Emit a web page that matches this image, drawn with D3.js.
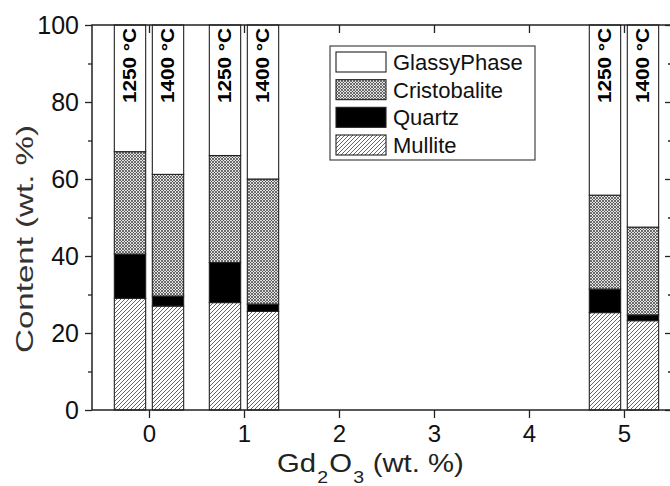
<!DOCTYPE html>
<html>
<head>
<meta charset="utf-8">
<script src="https://cdn.jsdelivr.net/npm/d3@7"></script>
<style>
  body { margin: 0; background: #fff; }
  svg { display: block; font-family: "Liberation Sans", Arial, sans-serif; }
</style>
</head>
<body>
<svg id="chart" width="670" height="486"></svg>
<script>
// Gd2O3 content (wt. %) groups and the two sintering temperatures
const doses = [0, 1, 5];
const temps = ["1250 °C", "1400 °C"];

// phase contents, one value per bar: 0/1250, 0/1400, 1/1250, 1/1400, 5/1250, 5/1400
const mullite      = [29.0, 27.0, 27.9, 25.6, 25.3, 23.2];
const quartz       = [11.5, 2.6, 10.4, 1.9, 6.1, 1.5];
const cristobalite = [26.6, 31.6, 27.8, 32.5, 24.4, 22.8];
const glassy       = [32.9, 38.8, 33.9, 40.0, 44.2, 52.5];

const phases = ["Mullite", "Quartz", "Cristobalite", "GlassyPhase"];
const yTicks = [0, 20, 40, 60, 80, 100];
const xTicks = [0, 1, 2, 3, 4, 5];

const svg = d3.select("#chart");
const pl = 92, pr = 671, pt = 25, pb = 410;
const axisColor = "#222";

const x = d3.scaleLinear().domain([-0.6, 5.495]).range([pl, pr]);
const y = d3.scaleLinear().domain([0, 100]).range([pb, pt]);

// patterns
const defs = svg.append("defs");
const hatch = defs.append("pattern")
  .attr("id", "hatch").attr("patternUnits", "userSpaceOnUse")
  .attr("width", 4).attr("height", 4);
hatch.append("rect").attr("width", 4).attr("height", 4).attr("fill", "#fff");
hatch.append("path").attr("d", "M-1,1 l2,-2 M0,4 l4,-4 M3,5 l2,-2")
  .attr("stroke", "#333").attr("stroke-width", 0.75);

const cross = defs.append("pattern")
  .attr("id", "cross").attr("patternUnits", "userSpaceOnUse")
  .attr("width", 3).attr("height", 3);
cross.append("rect").attr("width", 3).attr("height", 3).attr("fill", "#e4e4e4");
cross.append("path").attr("d", "M0,0 L3,3 M3,0 L0,3")
  .attr("stroke", "#444").attr("stroke-width", 0.75);

const fills = {
  Mullite: "url(#hatch)",
  Quartz: "#000",
  Cristobalite: "url(#cross)",
  GlassyPhase: "#fff"
};

// table for the stack
const rows = [];
doses.forEach((d, i) => {
  temps.forEach((t, j) => {
    const k = i * temps.length + j;
    rows.push({
      dose: d, temp: t, side: j,
      Mullite: mullite[k], Quartz: quartz[k],
      Cristobalite: cristobalite[k], GlassyPhase: glassy[k]
    });
  });
});

const stacked = d3.stack().keys(phases)(rows);
const barW = 0.33, off = 0.2;
const barX0 = r => x(r.dose + (r.side === 0 ? -off : off) - barW / 2);
const barPx = x(barW) - x(0);

// bars
svg.append("g").selectAll("g")
  .data(stacked).join("g")
  .attr("fill", s => fills[s.key])
  .selectAll("rect")
  .data(s => s).join("rect")
  .attr("x", d => barX0(d.data))
  .attr("width", barPx)
  .attr("y", d => y(d[1]))
  .attr("height", d => y(d[0]) - y(d[1]))
  .attr("stroke", "#222").attr("stroke-width", 1.1);

// temperature labels inside bars
svg.append("g").selectAll("text")
  .data(rows).join("text")
  .attr("transform", r => `translate(${barX0(r) + barPx / 2 + 6.5},28) rotate(-90)`)
  .attr("text-anchor", "end")
  .attr("font-size", 17.5).attr("font-weight", "bold")
  .attr("textLength", 75).attr("lengthAdjust", "spacingAndGlyphs")
  .text(r => r.temp);

// frame
svg.append("rect")
  .attr("x", pl).attr("y", pt)
  .attr("width", pr - pl).attr("height", pb - pt)
  .attr("fill", "none").attr("stroke", axisColor).attr("stroke-width", 1.5);

// axes
const yMinor = d3.range(10, 100, 20);
const gl = svg.append("g").attr("transform", `translate(${pl},0)`)
  .call(d3.axisLeft(y).tickValues(yTicks).tickSize(7).tickPadding(6));
gl.select(".domain").remove();
gl.selectAll("line").attr("stroke", axisColor).attr("stroke-width", 1.3);
gl.selectAll("text").attr("font-size", 25).attr("fill", "#111")
  .attr("font-family", "Liberation Sans, Arial, sans-serif");
svg.append("g").attr("transform", `translate(${pl},0)`)
  .call(d3.axisLeft(y).tickValues(yMinor).tickSize(4).tickFormat(""))
  .call(g => g.select(".domain").remove())
  .selectAll("line").attr("stroke", axisColor).attr("stroke-width", 1.3);

svg.append("g").attr("transform", `translate(${pr},0)`)
  .call(d3.axisRight(y).tickValues(yTicks).tickSize(-6).tickFormat(""))
  .call(g => g.select(".domain").remove())
  .selectAll("line").attr("stroke", axisColor).attr("stroke-width", 1.3);
svg.append("g").attr("transform", `translate(${pr},0)`)
  .call(d3.axisRight(y).tickValues(yMinor).tickSize(-3).tickFormat(""))
  .call(g => g.select(".domain").remove())
  .selectAll("line").attr("stroke", axisColor).attr("stroke-width", 1.3);

const gb = svg.append("g").attr("transform", `translate(0,${pb})`)
  .call(d3.axisBottom(x).tickValues(xTicks).tickSize(8).tickPadding(7).tickFormat(d3.format("d")));
gb.select(".domain").remove();
gb.selectAll("line").attr("stroke", axisColor).attr("stroke-width", 1.3);
gb.selectAll("text").attr("font-size", 24).attr("fill", "#111")
  .attr("font-family", "Liberation Sans, Arial, sans-serif");

svg.append("g").attr("transform", `translate(0,${pt})`)
  .call(d3.axisTop(x).tickValues(xTicks).tickSize(-8).tickFormat(""))
  .call(g => g.select(".domain").remove())
  .selectAll("line").attr("stroke", axisColor).attr("stroke-width", 1.3);

// axis titles
svg.append("text")
  .attr("transform", "translate(33,239) rotate(-90)")
  .attr("text-anchor", "middle").attr("font-size", 24).attr("fill", "#333")
  .attr("textLength", 228).attr("lengthAdjust", "spacingAndGlyphs")
  .text("Content (wt. %)");

const xt = svg.append("text")
  .attr("transform", "translate(277,472) scale(1.22,1.05)")
  .attr("font-size", 24).attr("fill", "#222");
xt.append("tspan").text("Gd");
xt.append("tspan").attr("dy", 10).attr("dx", 1).attr("font-size", 16).text("2");
xt.append("tspan").attr("dy", -10).attr("dx", 1).text("O");
xt.append("tspan").attr("dy", 10).attr("dx", 1).attr("font-size", 16).text("3");
xt.append("tspan").attr("dy", -10).attr("dx", 7).text("(wt. %)");

// legend
const legend = svg.append("g");
legend.append("rect")
  .attr("x", 330).attr("y", 46).attr("width", 205).attr("height", 114)
  .attr("fill", "#fff").attr("stroke", "#444").attr("stroke-width", 1.2);
const legendOrder = ["GlassyPhase", "Cristobalite", "Quartz", "Mullite"];
const ly = d3.scalePoint().domain(legendOrder).range([52, 135]);
const items = legend.selectAll("g.item").data(legendOrder).join("g").attr("class", "item");
items.append("rect")
  .attr("x", 336).attr("y", d => ly(d)).attr("width", 50).attr("height", 20)
  .attr("fill", d => fills[d]).attr("stroke", "#222").attr("stroke-width", 1.1);
items.append("text")
  .attr("x", 393).attr("y", d => ly(d) + 18)
  .attr("font-size", 22).attr("fill", "#111")
  .text(d => d);
</script>
</body>
</html>
